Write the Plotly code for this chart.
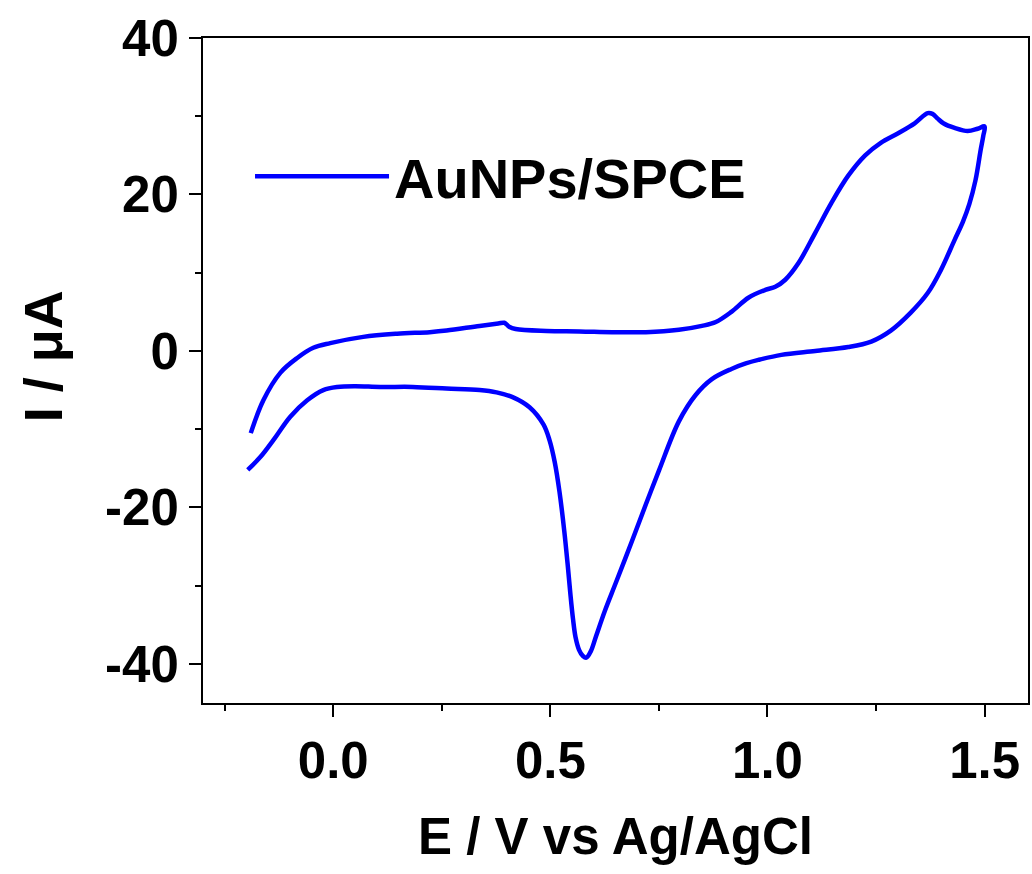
import plotly.graph_objects as go

# Forward (anodic) scan, -0.2 V -> 1.5 V
E_fwd = [-0.19, -0.161, -0.122, -0.083, -0.046, -0.007, 0.069, 0.147, 0.222, 0.261,
         0.337, 0.38, 0.394, 0.405, 0.42, 0.491, 0.567, 0.642, 0.72, 0.796, 0.849,
         0.881, 0.917, 0.956, 0.995, 1.018, 1.041, 1.071, 1.110, 1.147, 1.186, 1.225,
         1.261, 1.300, 1.339, 1.369, 1.380, 1.392, 1.405, 1.431, 1.461, 1.484, 1.500]
I_fwd = [-10.5, -6.3, -2.8, -0.9, 0.4, 1.0, 1.8, 2.2, 2.4, 2.6,
         3.2, 3.5, 3.6, 3.1, 2.8, 2.55, 2.5, 2.4, 2.4, 2.7, 3.2,
         3.7, 5.0, 6.8, 7.8, 8.2, 9.1, 11.2, 15.1, 18.9, 22.4, 25.0,
         26.6, 27.8, 29.1, 30.4, 30.3, 29.7, 29.1, 28.5, 28.1, 28.4, 28.7]

# Reverse (cathodic) scan, 1.5 V -> -0.2 V
E_rev = [1.497, 1.491, 1.479, 1.465, 1.450, 1.431, 1.399, 1.369, 1.330, 1.284, 1.239,
         1.186, 1.110, 1.032, 0.979, 0.950, 0.917, 0.872, 0.835, 0.796, 0.75, 0.72,
         0.688, 0.651, 0.625, 0.605, 0.593, 0.583, 0.575, 0.566, 0.558, 0.552, 0.546,
         0.540, 0.532, 0.521, 0.510, 0.498, 0.484, 0.452, 0.413, 0.376, 0.337, 0.261,
         0.183, 0.108, 0.05, 0.009, -0.023, -0.060, -0.099, -0.138, -0.167, -0.197]
I_rev = [27.5, 25.7, 21.8, 18.8, 16.5, 14.2, 10.3, 7.4, 4.9, 2.6, 1.2,
         0.5, 0.0, -0.5, -1.15, -1.6, -2.3, -3.6, -5.6, -9.0, -15.3, -19.6,
         -24.3, -29.6, -33.3, -36.5, -38.4, -39.2, -39.0, -38.2, -36.6, -34.2, -31.0,
         -27.4, -23.0, -18.0, -14.2, -11.4, -9.4, -7.2, -5.9, -5.3, -5.0, -4.8,
         -4.6, -4.6, -4.5, -4.6, -5.0, -6.3, -8.4, -11.4, -13.5, -15.2]

series_name = "AuNPs/SPCE"
x_tickvals = [0.0, 0.5, 1.0, 1.5]
x_ticktext = ["0.0", "0.5", "1.0", "1.5"]
y_tickvals = [40, 20, 0, -20, -40]
y_ticktext = ["40", "20", "0", "-20", "-40"]

E_all = E_fwd + E_rev
I_all = I_fwd + I_rev

FONT = "Liberation Sans, Arial, sans-serif"

fig = go.Figure()
fig.add_trace(go.Scatter(
    x=E_all, y=I_all, mode="lines", name=series_name,
    line=dict(color="#0000FF", width=4.5, shape="spline", smoothing=1.0),
))

axis_common = dict(
    showline=True, linecolor="black", linewidth=2, mirror=True,
    ticks="outside", ticklen=12, tickwidth=2, tickcolor="black",
    showgrid=False, zeroline=False,
    tickfont=dict(family=FONT, size=51, color="black", weight="bold"),
)

fig.update_xaxes(
    range=[-0.3, 1.6], tickvals=x_tickvals, ticktext=x_ticktext,
    minor=dict(ticks="outside", ticklen=6, tickwidth=2, tickcolor="black", dtick=0.25, tick0=-0.25),
    title=dict(text="<b>E / V vs Ag/AgCl</b>", font=dict(family=FONT, size=51, color="black"), standoff=30),
    **axis_common,
)
fig.update_yaxes(
    range=[-45, 40], tickvals=y_tickvals, ticktext=y_ticktext,
    minor=dict(ticks="outside", ticklen=6, tickwidth=2, tickcolor="black", dtick=10, tick0=0),
    **axis_common,
)

fig.add_annotation(
    text="<b>I / μA</b>", textangle=-90, showarrow=False,
    xref="paper", yref="paper", x=-0.1947, y=0.522, xanchor="center", yanchor="middle",
    font=dict(family=FONT, size=54, color="black"),
)

fig.update_layout(
    width=1032, height=874,
    margin=dict(l=203, r=2, t=38, b=171),
    paper_bgcolor="white", plot_bgcolor="white",
    showlegend=True,
    legend=dict(
        x=0.057, y=0.792, xanchor="left", yanchor="middle",
        bgcolor="rgba(0,0,0,0)", itemwidth=134,
        font=dict(family=FONT, size=56, color="black", weight="bold"),
    ),
)

fig.write_html("out.html")
